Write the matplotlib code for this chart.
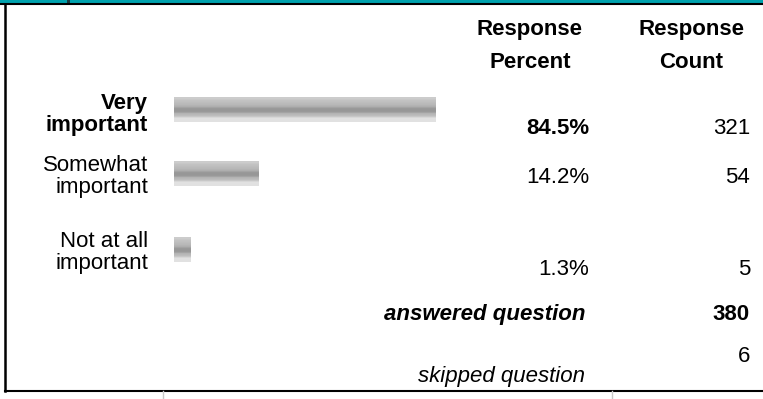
import numpy as np
import matplotlib
matplotlib.use("Agg")
import matplotlib.pyplot as plt

# survey answers
labels = [["Very", "important"], ["Somewhat", "important"], ["Not at all", "important"]]
pct = [84.5, 14.2, 1.3]
counts = [321, 54, 5]
bar_len = [84.5, 27.5, 5.5]  # bar lengths as drawn in the picture
answered = 380
skipped = 6
header = [["Response", "Percent"], ["Response", "Count"]]

# layout (pixels)
row_y = [110, 174, 250]
label_base = [(109, 131), (171, 193), (247, 269)]
value_base = [134, 183, 275]
font = "Liberation Sans"
fs = 16

fig = plt.figure(figsize=(7.63, 3.99), dpi=100)
ax = fig.add_axes([0, 0, 1, 1])
ax.set_xlim(0, 763)
ax.set_ylim(399, 0)
ax.axis("off")

# frame: teal band on top, black rule, left and bottom border
ax.fill_between([0, 763], 0, 3.4, color="#00A2AE", lw=0)
ax.plot([67, 70], [1.5, 1.5], color="#1a3a40", lw=3, solid_capstyle="butt")
ax.plot([0, 763], [4, 4], color="black", lw=1.5)
ax.plot([5, 5], [4, 391], color="black", lw=1.8)
ax.plot([5, 763], [391, 391], color="black", lw=1.5)
for xt in [163, 612]:
    ax.plot([xt, xt], [391, 399], color="#c8c8c8", lw=1)

# header
for cx, (l1, l2) in zip([530, 691], header):
    ax.text(cx, 35, l1, ha="center", va="baseline", fontsize=fs, fontweight="bold", family=font)
    ax.text(cx, 68, l2, ha="center", va="baseline", fontsize=fs, fontweight="bold", family=font)

# rows
for i, (lab, (b1, b2)) in enumerate(zip(labels, label_base)):
    w = "bold" if i == 0 else "normal"
    ax.text(148, b1, lab[0], ha="right", va="baseline", fontsize=fs, fontweight=w, family=font)
    ax.text(148, b2, lab[1], ha="right", va="baseline", fontsize=fs, fontweight=w, family=font)
    ax.text(589, value_base[i], f"{pct[i]:.1f}%", ha="right", va="baseline",
            fontsize=fs, fontweight=w, family=font)
    ax.text(750, value_base[i], str(counts[i]), ha="right", va="baseline", fontsize=fs, family=font)

ax.text(585, 320, "answered question", ha="right", va="baseline", fontsize=fs,
        fontweight="bold", fontstyle="italic", family=font)
ax.text(750, 320, str(answered), ha="right", va="baseline", fontsize=fs, fontweight="bold", family=font)
ax.text(750, 362, str(skipped), ha="right", va="baseline", fontsize=fs, family=font)
ax.text(585, 382, "skipped question", ha="right", va="baseline", fontsize=fs,
        fontstyle="italic", family=font)

# bars with striped grey gradient
bx = fig.add_axes([174 / 763, 0, 309 / 763, 1])
bx.set_xlim(0, 100)
bx.set_ylim(399, 0)
bx.axis("off")
shade = np.array([0.80, 0.80, 0.78, 0.76, 0.75, 0.74, 0.73, 0.72, 0.70, 0.68,
                  0.64, 0.60, 0.59, 0.60, 0.64, 0.70, 0.72, 0.74, 0.78, 0.84,
                  0.88, 0.88, 0.88, 0.88])
grad = np.repeat(shade[:, None], 2, axis=1)
bars = bx.barh(row_y, bar_len, height=25, left=0, color="none", lw=0)
for b in bars:
    x0, y0, bw, bh = b.get_x(), b.get_y(), b.get_width(), b.get_height()
    bx.imshow(grad, cmap="gray", vmin=0, vmax=1, aspect="auto", interpolation="nearest",
              extent=(x0, x0 + bw, y0 + bh, y0), zorder=2)
bx.set_xlim(0, 100)
bx.set_ylim(399, 0)

fig.savefig("out.png", dpi=100)
